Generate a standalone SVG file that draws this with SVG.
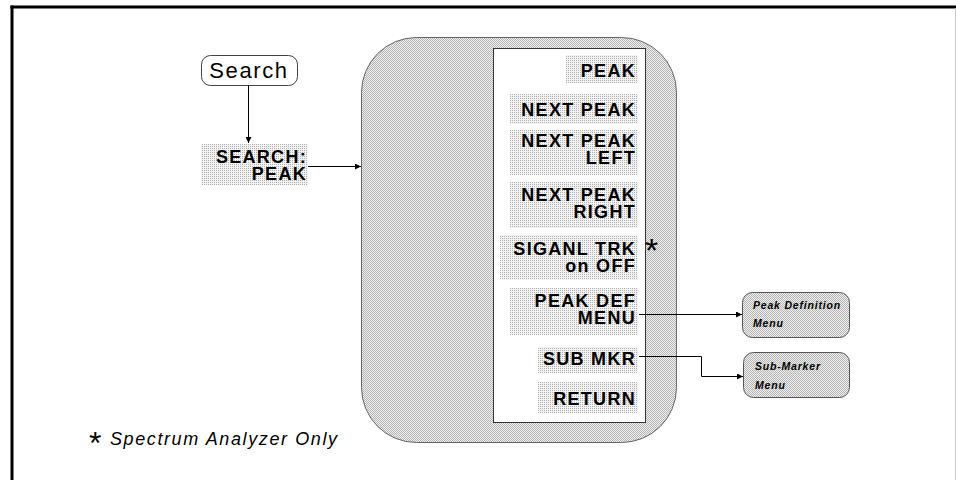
<svg xmlns="http://www.w3.org/2000/svg" width="956" height="480" viewBox="0 0 956 480">
  <defs>
    <pattern id="dots" width="2" height="2" patternUnits="userSpaceOnUse">
      <rect width="2" height="2" fill="#f0f0f0"/>
      <rect width="1" height="1" fill="#b4b4b4"/>
      <rect x="1" y="1" width="1" height="1" fill="#b4b4b4"/>
    </pattern>
    <pattern id="ldots" width="2" height="2" patternUnits="userSpaceOnUse">
      <rect width="2" height="2" fill="#f3f3f3"/>
      <rect width="1" height="1" fill="#b0b0b0"/>
    </pattern>
    <marker id="arr" viewBox="0 0 10 10" refX="10" refY="5" markerWidth="8" markerHeight="6" markerUnits="userSpaceOnUse" orient="auto">
      <path d="M0,0 L10,5 L0,10 z" fill="#000"/>
    </marker>
    <style>
      .key { font-family: "Liberation Sans", Arial, sans-serif; font-size: 18px; font-weight: bold; fill: #000; text-anchor: end; letter-spacing: 1.3px; }
      .kbg { fill: url(#ldots); }
      .small { font-family: "Liberation Sans", Arial, sans-serif; font-size: 10.5px; font-weight: bold; font-style: italic; fill: #000; letter-spacing: 0.8px; }
      .line { fill: none; stroke: #000; stroke-width: 1; }
      .star { font-family: "Liberation Sans", Arial, sans-serif; font-size: 34px; fill: #000; }
    </style>
  </defs>

  <!-- frame -->
  <line x1="10.5" y1="7" x2="956" y2="7" stroke="#000" stroke-width="3"/>
  <line x1="12" y1="5.5" x2="12" y2="480" stroke="#000" stroke-width="3"/>
  <line x1="955.5" y1="8" x2="955.5" y2="480" stroke="#c8c8c8" stroke-width="1"/>

  <g id="search-key">
    <rect x="201.5" y="55.5" width="96" height="30" rx="9" ry="9" fill="#fff" stroke="#444" stroke-width="1"/>
    <text x="249" y="78" font-family="Liberation Sans, Arial, sans-serif" font-size="22" letter-spacing="1.6" text-anchor="middle">Search</text>
  </g>

  <g id="search-peak">
    <rect x="201" y="144" width="107" height="41" class="kbg"/>
    <text class="key" x="307" y="163">SEARCH:</text>
    <text class="key" x="307" y="180">PEAK</text>
  </g>

  <g id="menu">
    <rect x="361.5" y="37.5" width="315" height="405" rx="55" ry="55" fill="url(#dots)" stroke="#666" stroke-width="1"/>
    <rect x="493.5" y="48.5" width="152" height="374" fill="#fff" stroke="#333" stroke-width="1"/>
    <g id="k-peak">
      <rect x="566" y="55" width="72" height="28" class="kbg"/>
      <text class="key" x="636" y="77">PEAK</text>
    </g>
    <g id="k-next-peak">
      <rect x="510" y="94" width="128" height="30" class="kbg"/>
      <text class="key" x="636" y="116">NEXT PEAK</text>
    </g>
    <g id="k-next-peak-left">
      <rect x="510" y="130" width="128" height="45" class="kbg"/>
      <text class="key" x="636" y="147">NEXT PEAK</text>
      <text class="key" x="636" y="164">LEFT</text>
    </g>
    <g id="k-next-peak-right">
      <rect x="510" y="182" width="128" height="46" class="kbg"/>
      <text class="key" x="636" y="201">NEXT PEAK</text>
      <text class="key" x="636" y="218">RIGHT</text>
    </g>
    <g id="k-signal-trk">
      <rect x="500" y="235" width="138" height="45" class="kbg"/>
      <text class="key" x="636" y="255">SIGANL TRK</text>
      <text class="key" x="636" y="272">on OFF</text>
      <text class="star" x="645" y="262">*</text>
    </g>
    <g id="k-peak-def">
      <rect x="510" y="288" width="128" height="47" class="kbg"/>
      <text class="key" x="636" y="307">PEAK DEF</text>
      <text class="key" x="636" y="324">MENU</text>
    </g>
    <g id="k-sub-mkr">
      <rect x="538" y="347" width="100" height="26" class="kbg"/>
      <text class="key" x="636" y="365">SUB MKR</text>
    </g>
    <g id="k-return">
      <rect x="538" y="382" width="100" height="31" class="kbg"/>
      <text class="key" x="636" y="405">RETURN</text>
    </g>
  </g>

  <g id="peak-def-menu">
    <rect x="742.5" y="292.5" width="107" height="45" rx="10" ry="10" fill="url(#dots)" stroke="#555" stroke-width="1"/>
    <text class="small" x="753" y="309">Peak Definition</text>
    <text class="small" x="753" y="327">Menu</text>
  </g>

  <g id="sub-marker-menu">
    <rect x="743.5" y="352.5" width="106" height="45" rx="10" ry="10" fill="url(#dots)" stroke="#555" stroke-width="1"/>
    <text class="small" x="755" y="370">Sub-Marker</text>
    <text class="small" x="755" y="389">Menu</text>
  </g>

  <g id="connectors">
    <path class="line" d="M248.5,85.5 V143" marker-end="url(#arr)"/>
    <path class="line" d="M308,166.5 H361" marker-end="url(#arr)"/>
    <path class="line" d="M639,314.5 H742" marker-end="url(#arr)"/>
    <path class="line" d="M639,356.5 H701.5 V376.5 H743" stroke="#555" marker-end="url(#arr)"/>
  </g>

  <g id="note">
    <text x="89" y="454" font-family="Liberation Sans, Arial, sans-serif" font-size="32" fill="#000">*</text>
    <text x="110" y="445" font-family="Liberation Sans, Arial, sans-serif" font-size="18" font-style="italic" letter-spacing="1.6" fill="#000">Spectrum Analyzer Only</text>
  </g>
</svg>
